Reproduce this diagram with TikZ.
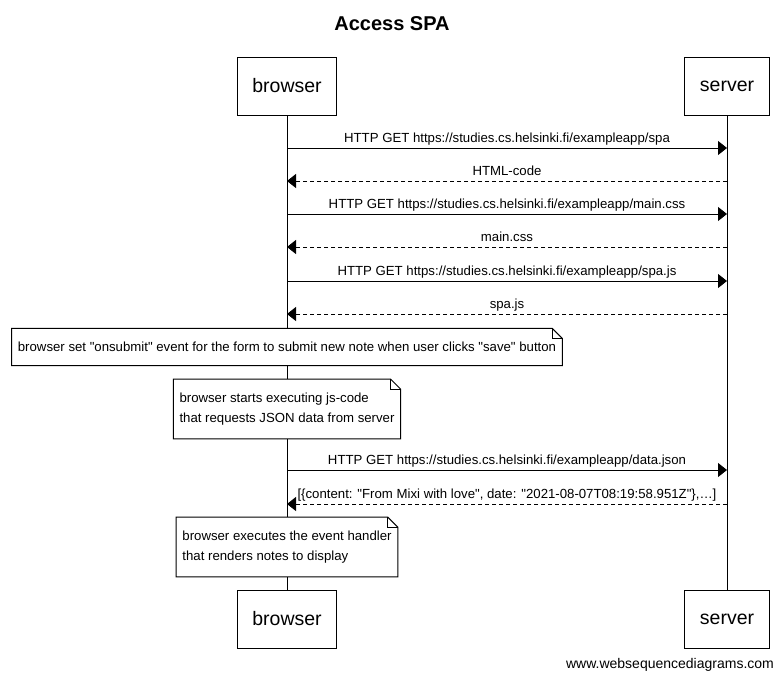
\documentclass[tikz,border=0pt]{standalone}
\usepackage{fontspec}
\setmainfont{Liberation Sans}[Ligatures=TeXOff]
\usetikzlibrary{arrows.meta,positioning}

% outline of a note with a folded corner
\newcommand{\notedraw}[1]{%
  \draw[line width=1pt] (#1.north west) -- ([xshift=-10pt]#1.north east) -- ([yshift=-10pt]#1.north east) -- (#1.south east) -- (#1.south west) -- cycle;
  \draw[line width=0.6pt] ([xshift=-10pt]#1.north east) |- ([yshift=-10pt]#1.north east);}

\begin{document}
\begin{tikzpicture}[x=1pt, y=-1pt,
    actor/.style={rectangle, draw, line width=1pt, minimum height=58pt, inner xsep=15pt, font=\fontsize{19.5}{23}\selectfont},
    lifeline/.style={line width=1pt},
    msg/.style={line width=1pt, -{Triangle[length=9pt, width=14pt]}},
    reply/.style={msg, dash pattern=on 4pt off 3pt},
    msglabel/.style={above, inner sep=2pt, text height=10pt, text depth=2.8pt, font=\fontsize{13.2}{15}\selectfont},
    note/.style={rectangle, fill=white, align=left, inner xsep=6pt, inner ysep=13.5pt, font=\fontsize{13.2}{20}\selectfont}
]
\useasboundingbox[fill=white] (0,0) rectangle (784,681);

% Title
\node[font=\fontsize{20}{24}\selectfont\bfseries] (title) at (392,24) {Access SPA};

% Participants
\node[actor] (browserTop) at (287,86) {browser};
\node[actor] (serverTop) at (727,86) {server};
\node[actor] (browserBot) at (287,619) {browser};
\node[actor] (serverBot) at (727,619) {server};

% Lifelines
\draw[lifeline] (browserTop) -- (browserBot);
\draw[lifeline] (serverTop) -- (serverBot);

% Message end points
\coordinate (b1) at (287,148); \coordinate (s1) at (727,148);
\coordinate (b2) at (287,181); \coordinate (s2) at (727,181);
\coordinate (b3) at (287,214); \coordinate (s3) at (727,214);
\coordinate (b4) at (287,247); \coordinate (s4) at (727,247);
\coordinate (b5) at (287,281); \coordinate (s5) at (727,281);
\coordinate (b6) at (287,314); \coordinate (s6) at (727,314);
\coordinate (b7) at (287,470); \coordinate (s7) at (727,470);
\coordinate (b8) at (287,504); \coordinate (s8) at (727,504);

% Messages
\draw[msg] (b1) -- node[msglabel] {HTTP GET https://studies.cs.helsinki.fi/exampleapp/spa} (s1);
\draw[reply] (s2) -- node[msglabel] {HTML-code} (b2);
\draw[msg] (b3) -- node[msglabel] {HTTP GET https://studies.cs.helsinki.fi/exampleapp/main.css} (s3);
\draw[reply] (s4) -- node[msglabel] {main.css} (b4);
\draw[msg] (b5) -- node[msglabel] {HTTP GET https://studies.cs.helsinki.fi/exampleapp/spa.js} (s5);
\draw[reply] (s6) -- node[msglabel] {spa.js} (b6);
\draw[msg] (b7) -- node[msglabel] {HTTP GET https://studies.cs.helsinki.fi/exampleapp/data.json} (s7);
\draw[reply] (s8) -- node[msglabel] {[\{content: "From Mixi with love", date: "2021-08-07T08:19:58.951Z"\},…]} (b8);

% Notes
\node[note] (note1) at (287,347) {browser set "onsubmit" event for the form to submit new note when user clicks "save" button};
\notedraw{note1}
\node[note] (note2) at (287,409) {browser starts executing js-code\\that requests JSON data from server};
\notedraw{note2}
\node[note] (note3) at (287,547) {browser executes the event handler\\that renders notes to display};
\notedraw{note3}

% Credit
\node[font=\fontsize{14}{17}\selectfont] (credit) at (670,665) {www.websequencediagrams.com};

\end{tikzpicture}
\end{document}
